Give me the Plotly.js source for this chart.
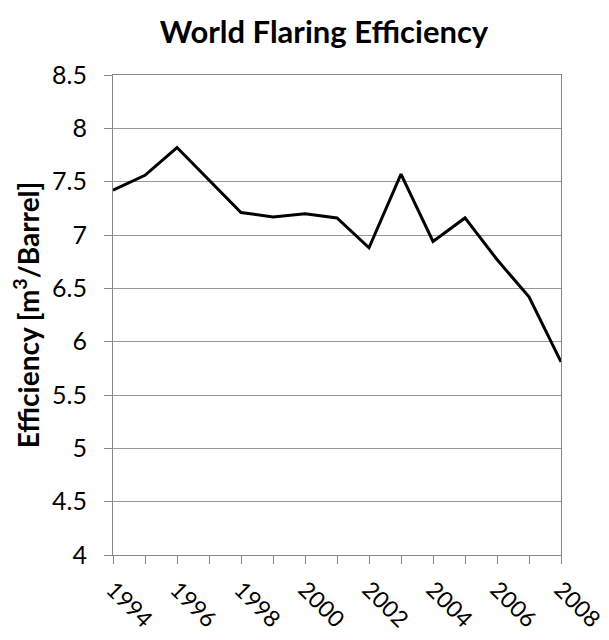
<!DOCTYPE html>
<html>
<head>
<meta charset="utf-8">
<script src="https://cdn.plot.ly/plotly-3.0.1.min.js"></script>
<style>html,body{margin:0;padding:0;background:#fff;}#chart{width:609px;height:640px;}</style>
</head>
<body>
<div id="chart"></div>
<script>
const years = [1994,1995,1996,1997,1998,1999,2000,2001,2002,2003,2004,2005,2006,2007,2008];
const efficiency = [7.42,7.56,7.82,7.51,7.21,7.17,7.20,7.16,6.88,7.57,6.94,7.16,6.77,6.42,5.81];
const yTicks = [4,4.5,5,5.5,6,6.5,7,7.5,8,8.5];
const yTickText = ['4','4.5','5','5.5','6','6.5','7','7.5','8','8.5'];
const font = 'Lato, "Open Sans", sans-serif';

Plotly.newPlot('chart', [{
  x: years, y: efficiency, type: 'scatter', mode: 'lines',
  line: {color: '#000', width: 3}
}], {
  width: 609, height: 640,
  margin: {l: 113, r: 48, t: 75, b: 85},
  paper_bgcolor: '#fff', plot_bgcolor: '#fff',
  showlegend: false,
  title: {text: '<b>World Flaring Efficiency</b>', x: 0.532, xanchor: 'center', y: 0.95, yanchor: 'middle',
    font: {family: font, size: 31, color: '#000'}},
  xaxis: {
    range: [1994, 2008], tickmode: 'linear', tick0: 1994, dtick: 2,
    tickangle: 45, ticks: 'outside', ticklen: 8, tickcolor: '#888',
    ticklabelstandoff: 3,
    minor: {dtick: 1, tick0: 1994, ticks: 'outside', ticklen: 8, tickcolor: '#888', showgrid: false},
    showline: true, linecolor: '#888', linewidth: 1, mirror: true,
    showgrid: false, zeroline: false,
    tickfont: {family: font, size: 23, color: '#000'}
  },
  yaxis: {
    range: [4, 8.5], tickvals: yTicks, ticktext: yTickText,
    ticks: 'outside', ticklen: 8, tickcolor: '#888',
    ticklabelstandoff: 12,
    showline: true, linecolor: '#888', linewidth: 1, mirror: true,
    showgrid: true, gridcolor: '#999', gridwidth: 1, zeroline: false,
    tickfont: {family: font, size: 25, color: '#000'},
    title: {text: '<b>Efficiency [m<sup>3</sup>/Barrel]</b>', standoff: 4,
      font: {family: font, size: 28, color: '#000'}}
  }
}, {displayModeBar: false, staticPlot: true});
</script>
</body>
</html>
